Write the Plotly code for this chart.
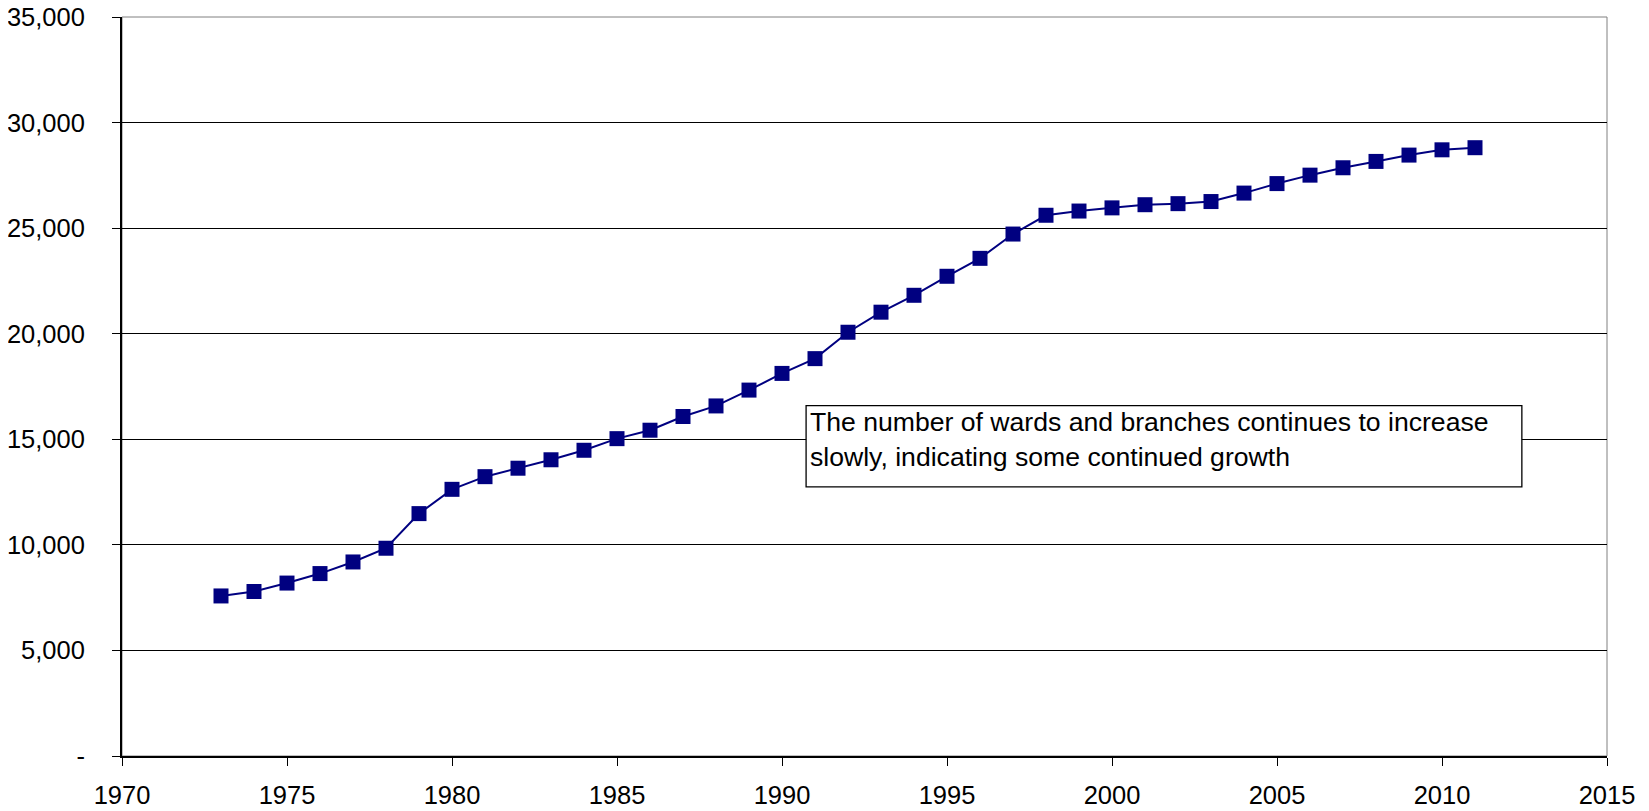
import plotly.graph_objects as go

years = list(range(1973, 2012))
units = [7580, 7790, 8190, 8640, 9190, 9840, 11480, 12630, 13230, 13630,
         14030, 14480, 15030, 15430, 16080, 16580, 17330, 18120, 18820, 20070,
         21020, 21820, 22720, 23570, 24720, 25610, 25810, 25960, 26110, 26160,
         26260, 26660, 27110, 27510, 27860, 28160, 28460, 28710, 28810]

y_tickvals = [0, 5000, 10000, 15000, 20000, 25000, 30000, 35000]
y_ticktext = ["-", "5,000", "10,000", "15,000", "20,000", "25,000", "30,000", "35,000"]
x_tickvals = [1970, 1975, 1980, 1985, 1990, 1995, 2000, 2005, 2010, 2015]

note_lines = ["The number of wards and branches continues to increase",
              "slowly, indicating some continued growth"]

FONT = "Liberation Sans, Arial, sans-serif"
TICK = 25.5

fig = go.Figure()
fig.add_trace(go.Scatter(
    x=years, y=units, mode="lines+markers",
    line=dict(color="#000080", width=2),
    marker=dict(symbol="square", size=15, color="#000080"),
    showlegend=False, hoverinfo="x+y",
))

fig.add_shape(type="rect", xref="paper", yref="paper", x0=0, y0=0, x1=1, y1=1,
              line=dict(color="#808080", width=1), layer="below")

fig.add_shape(type="rect", xref="x", yref="y", x0=1990.73, x1=2012.42,
              y0=12750, y1=16590, line=dict(color="black", width=1.3),
              fillcolor="white", layer="above")
for i, t in enumerate(note_lines):
    fig.add_annotation(x=1990.8, y=15800 - i * 1645, xref="x", yref="y",
                       text=t, showarrow=False, xanchor="left", yanchor="middle",
                       font=dict(family=FONT, size=26.6, color="black"))

# page body has an 8px default margin, so the figure is sized to fill the rest
fig.update_layout(
    width=1641, height=803,
    margin=dict(l=114, r=42, t=9, b=55, autoexpand=False),
    paper_bgcolor="white", plot_bgcolor="white",
    font=dict(family=FONT, size=TICK, color="black"),
    xaxis=dict(range=[1970, 2015], tickvals=x_tickvals, showgrid=False,
               showline=True, linecolor="black", linewidth=2,
               ticks="outside", ticklen=8, tickcolor="black", tickwidth=1,
               zeroline=False, automargin=False, ticklabelstandoff=7,
               ticklabeloverflow="allow",
               tickfont=dict(family=FONT, size=TICK, color="black")),
    yaxis=dict(range=[0, 35000], tickvals=y_tickvals, ticktext=y_ticktext,
               showgrid=True, gridcolor="black", gridwidth=1,
               showline=True, linecolor="black", linewidth=2,
               ticks="outside", ticklen=8, tickcolor="black", tickwidth=1,
               zeroline=False, automargin=False, ticklabelstandoff=22,
               ticklabeloverflow="allow",
               tickfont=dict(family=FONT, size=TICK, color="black")),
)

fig.write_html("out.html")
